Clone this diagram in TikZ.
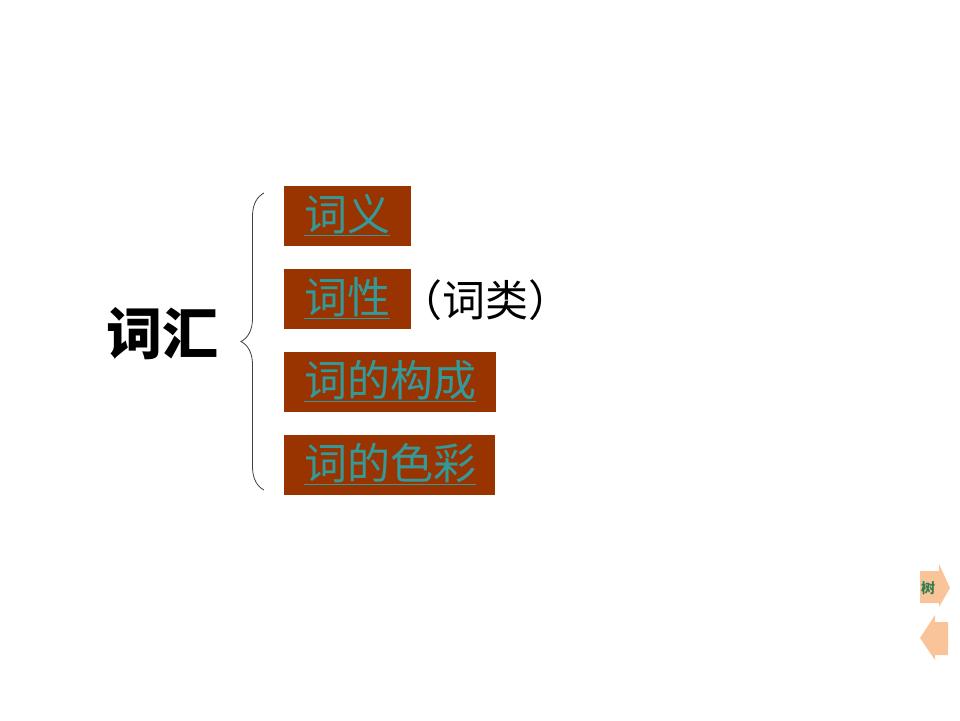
\documentclass[tikz,border=0pt]{standalone}
\usepackage{fontspec}
\newfontfamily\cjk{Noto Sans CJK SC}
\usetikzlibrary{decorations.pathreplacing}
\definecolor{boxbrown}{HTML}{993300}
\definecolor{linkteal}{HTML}{339999}
\definecolor{btnorange}{HTML}{F9C49A}
\definecolor{btngreen}{HTML}{2E7D4F}
\tikzset{
  catbox/.style={fill=boxbrown, draw=none, minimum height=60pt, inner sep=0pt, anchor=north west},
  linktext/.style={text=linkteal, font=\cjk\fontsize{43}{43}\selectfont, anchor=west, inner sep=0pt},
}
\begin{document}
\begin{tikzpicture}[x=1pt,y=-1pt]
\useasboundingbox[fill=white] (0,0) rectangle (960,720);
% title
\node[font=\cjk\bfseries\fontsize{56}{56}\selectfont, inner sep=0pt] (title) at (162,334) {词汇};
% brace
\coordinate (bt) at (264,193);
\coordinate (bb) at (264,490);
\draw[line width=0.8pt, black!75, decorate, decoration={brace, amplitude=23pt, aspect=0.5}] (bb) -- (bt);
% boxes
\node[catbox, minimum width=127pt] (b1) at (284,186) {};
\node[catbox, minimum width=127pt] (b2) at (284,269) {};
\node[catbox, minimum width=212pt] (b3) at (284,352) {};
\node[catbox, minimum width=211pt] (b4) at (284,435) {};
\node[linktext] (t1) at ([xshift=20pt,yshift=1pt]b1.west) {\underline{词义}};
\node[linktext] (t2) at ([xshift=20pt,yshift=1pt]b2.west) {\underline{词性}};
\node[linktext] (t3) at ([xshift=20pt,yshift=1pt]b3.west) {\underline{词的构成}};
\node[linktext] (t4) at ([xshift=20pt,yshift=1pt]b4.west) {\underline{词的色彩}};
\node[font=\cjk\fontsize{43}{43}\selectfont, anchor=west, inner sep=0pt] (note) at (399,300) {（词类）};
% navigation buttons
\fill[btnorange] (920,571) -- (939,571) -- (939,564) -- (950,588) -- (939,607) -- (939,603) -- (920,603) -- cycle;
\node[font=\cjk\bfseries\fontsize{14}{14}\selectfont, text=btngreen, inner sep=0pt] (tree) at (928,588) {树};
\fill[btnorange] (948,622) -- (935,622) -- (935,615) -- (920,638) -- (935,660) -- (935,655) -- (948,655) -- cycle;
\end{tikzpicture}
\end{document}
